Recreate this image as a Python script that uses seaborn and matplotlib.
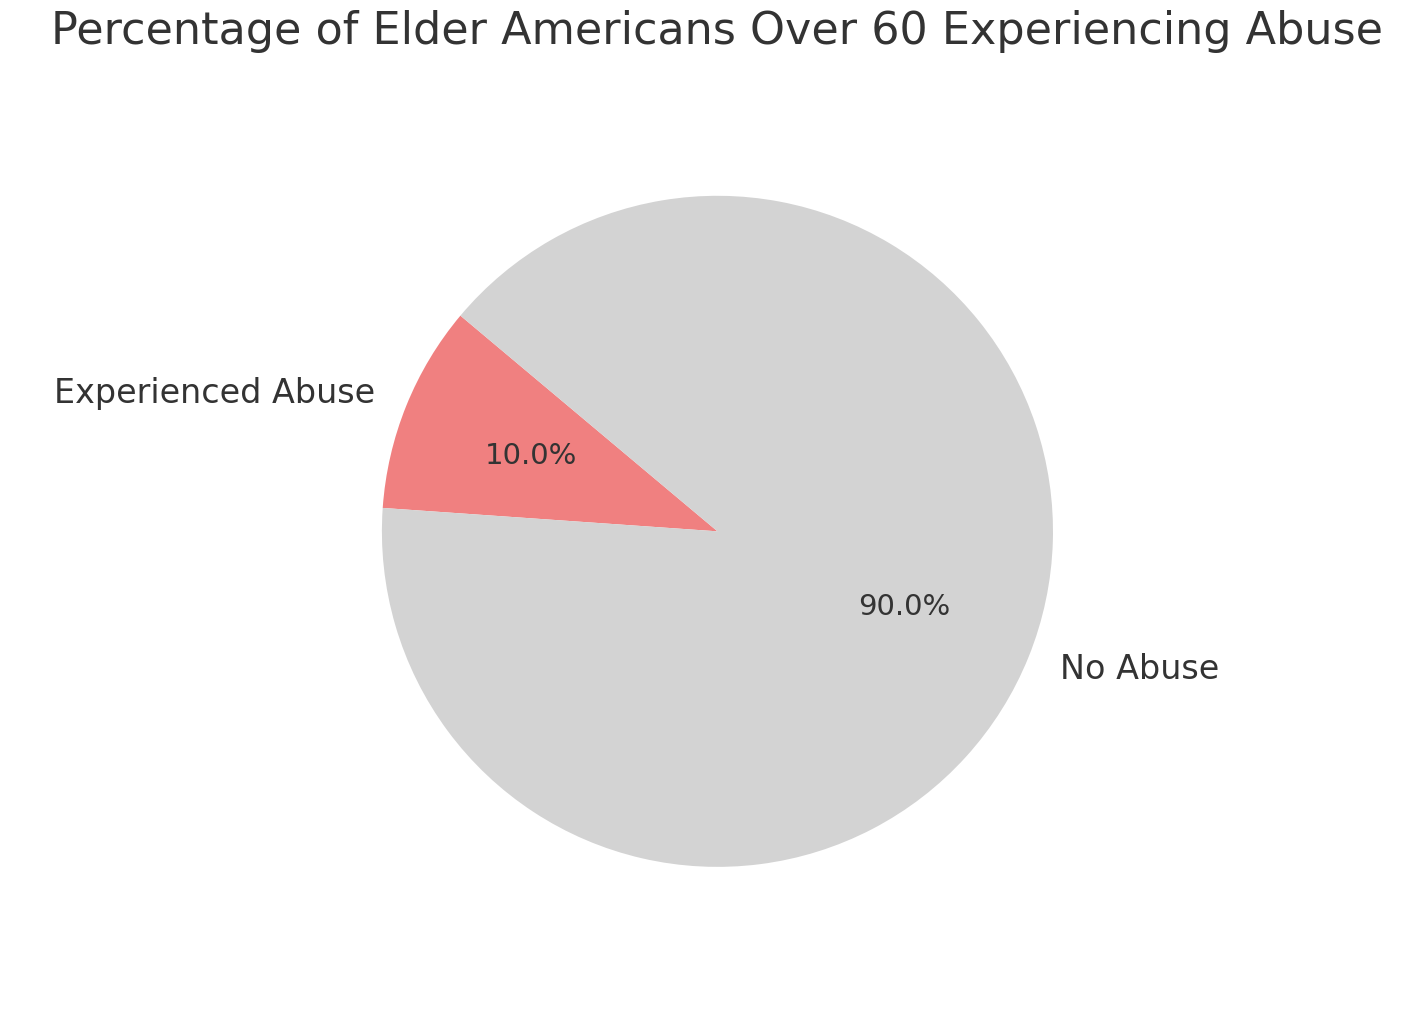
import matplotlib
matplotlib.use("Agg")
import matplotlib.pyplot as plt
import seaborn as sns

sns.set_theme(style="whitegrid")

labels = ["Experienced Abuse", "No Abuse"]
values = [10, 90]
colors = ["lightcoral", "lightgrey"]

fig = plt.figure(figsize=(7.02, 5.07), dpi=200)
ax = fig.add_axes([0.03, 0.112, 0.962, 0.728])
ax.pie(values, labels=labels, colors=colors, autopct="%1.1f%%", startangle=140,
       wedgeprops={"linewidth": 0}, textprops={"fontsize": 12, "color": "#333333"})
for t in ax.texts:
    if "%" in t.get_text():
        t.set_fontsize(10.5)
ax.axis("equal")
fig.suptitle("Percentage of Elder Americans Over 60 Experiencing Abuse", fontsize=16,
             color="#333333", x=0.511, y=0.99)
fig.savefig("out.png", dpi=200)
